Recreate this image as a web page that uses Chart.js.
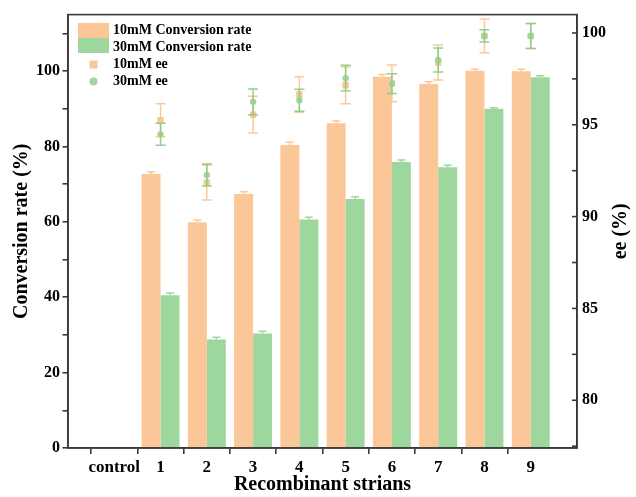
<!DOCTYPE html>
<html>
<head>
<meta charset="utf-8">
<script src="https://cdn.jsdelivr.net/npm/chart.js@4"></script>
<style>
  html, body { margin: 0; padding: 0; background: #ffffff; }
  #wrap { width: 636px; height: 497px; position: relative; }
</style>
</head>
<body>
<div id="wrap"><canvas id="c" width="636" height="497"></canvas></div>
<script>
// ---- data ----
const categories = ['control', '1', '2', '3', '4', '5', '6', '7', '8', '9'];
const conv10 = [null, 72.7, 59.9, 67.4, 80.4, 86.2, 98.5, 96.6, 100.1, 100.0];
const conv10Err = [null, 0.6, 0.6, 0.6, 0.7, 0.6, 0.6, 0.6, 0.4, 0.5];
const conv30 = [null, 40.5, 28.8, 30.4, 60.6, 66.1, 75.9, 74.5, 90.0, 98.4];
const conv30Err = [null, 0.6, 0.6, 0.6, 0.6, 0.6, 0.5, 0.5, 0.3, 0.4];
const ee10 = [null, 95.25, 91.86, 95.55, 96.65, 97.15, 97.25, 98.39, 99.84, 99.84];
const ee10Err = [null, 0.9, 0.95, 1.0, 0.97, 1.0, 1.0, 0.95, 0.92, 0.68];
const ee30 = [null, 94.48, 92.27, 96.25, 96.34, 97.54, 97.24, 98.53, 99.84, 99.84];
const ee30Err = [null, 0.6, 0.6, 0.7, 0.6, 0.7, 0.54, 0.65, 0.33, 0.68];
const leftTicks = [0, 20, 40, 60, 80, 100];
const rightTicks = [80, 85, 90, 95, 100];
const seriesNames = ['10mM Conversion rate', '30mM Conversion rate', '10mM ee', '30mM ee'];

// ---- styles ----
const ORANGE = 'rgb(251,199,152)';
const GREEN = 'rgb(157,215,157)';
const ORANGE_ERR = 'rgba(249,190,140,0.85)';
const GREEN_ERR = 'rgba(130,205,130,0.9)';
const AXIS = '#3a3a3a';
const SERIF = '"Liberation Serif", "Times New Roman", serif';

// pad the category axis with empty slots at both ends (space at left/right)
const pad = a => [null, ...a, null];
const labels = ['', ...categories, ''];

const errorBarPlugin = {
  id: 'errorBars',
  afterDatasetsDraw(chart) {
    const ctx = chart.ctx;
    chart.data.datasets.forEach((ds, di) => {
      if (!ds.errors) return;
      const meta = chart.getDatasetMeta(di);
      if (meta.hidden) return;
      const ys = chart.scales[meta.yAxisID];
      ctx.save();
      ctx.strokeStyle = ds.errorColor;
      ctx.lineWidth = 1.5;
      meta.data.forEach((el, i) => {
        const v = ds.data[i], e = ds.errors[i];
        if (v == null || e == null) return;
        const x = el.x;
        const yT = ys.getPixelForValue(v + e);
        const yB = ys.getPixelForValue(v - e);
        const hw = ds.capHalf;
        ctx.beginPath();
        ctx.moveTo(x, yT); ctx.lineTo(x, ds.type === 'bar' ? ys.getPixelForValue(v) : yB);
        ctx.moveTo(x - hw, yT); ctx.lineTo(x + hw, yT);
        if (ds.type !== 'bar') { ctx.moveTo(x - hw, yB); ctx.lineTo(x + hw, yB); }
        ctx.stroke();
      });
      ctx.restore();
    });
  }
};

const decorPlugin = {
  id: 'decor',
  afterDraw(chart) {
    const ctx = chart.ctx;
    const a = chart.chartArea;
    ctx.save();
    // frame
    ctx.strokeStyle = AXIS;
    ctx.lineWidth = 1.6;
    ctx.strokeRect(a.left, a.top, a.right - a.left, a.bottom - a.top);
    // right axis inward ticks
    const y2 = chart.scales.y2;
    y2.ticks.forEach(t => {
      const y = y2.getPixelForValue(t.value);
      ctx.beginPath();
      ctx.moveTo(a.right - 5, y); ctx.lineTo(a.right, y);
      ctx.stroke();
    });
    // right axis title (reads bottom-to-top)
    ctx.fillStyle = '#000';
    ctx.font = 'bold 20px ' + SERIF;
    ctx.textAlign = 'center';
    ctx.textBaseline = 'middle';
    ctx.translate(621, (a.top + a.bottom) / 2);
    ctx.rotate(-Math.PI / 2);
    ctx.fillText('ee (%)', 0, 0);
    ctx.restore();

    // legend inside plot
    ctx.save();
    const lx = 78, bw = 31, bh = 15;
    ctx.fillStyle = ORANGE; ctx.fillRect(lx, 23, bw, bh);
    ctx.fillStyle = GREEN; ctx.fillRect(lx, 38, bw, bh);
    ctx.fillStyle = ORANGE; ctx.fillRect(lx + bw / 2 - 4, 64.5 - 4, 8, 8);
    ctx.fillStyle = GREEN; ctx.beginPath(); ctx.arc(lx + bw / 2, 81.5, 4, 0, Math.PI * 2); ctx.fill();
    ctx.fillStyle = '#000';
    ctx.font = 'bold 14px ' + SERIF;
    ctx.textAlign = 'left';
    ctx.textBaseline = 'middle';
    const rows = [30.5, 47.5, 64.5, 81.5];
    seriesNames.forEach((n, i) => ctx.fillText(n, 113, rows[i]));
    ctx.restore();
  }
};

new Chart(document.getElementById('c'), {
  data: {
    labels: labels,
    datasets: [
      {
        type: 'line', label: seriesNames[2], data: pad(ee10), yAxisID: 'y2', order: 1,
        showLine: false, pointStyle: 'rect', pointRadius: 4.6, pointBackgroundColor: ORANGE,
        pointBorderWidth: 0, errors: pad(ee10Err), errorColor: ORANGE_ERR, capHalf: 5
      },
      {
        type: 'line', label: seriesNames[3], data: pad(ee30), yAxisID: 'y2', order: 0,
        showLine: false, pointStyle: 'circle', pointRadius: 3.2, pointBackgroundColor: GREEN,
        pointBorderWidth: 0, errors: pad(ee30Err), errorColor: GREEN_ERR, capHalf: 5
      },
      {
        type: 'bar', label: seriesNames[0], data: pad(conv10), yAxisID: 'y', order: 3,
        backgroundColor: ORANGE, borderWidth: 0, categoryPercentage: 0.82, barPercentage: 1.0,
        errors: pad(conv10Err), errorColor: ORANGE, capHalf: 4
      },
      {
        type: 'bar', label: seriesNames[1], data: pad(conv30), yAxisID: 'y', order: 3,
        backgroundColor: GREEN, borderWidth: 0, categoryPercentage: 0.82, barPercentage: 1.0,
        errors: pad(conv30Err), errorColor: GREEN, capHalf: 4
      }
    ]
  },
  options: {
    responsive: false,
    animation: false,
    devicePixelRatio: 1,
    layout: { padding: { top: 12, left: 0, right: 0, bottom: 0 } },
    plugins: { legend: { display: false }, tooltip: { enabled: false } },
    scales: {
      x: {
        type: 'category',
        offset: false,
        grid: {
          drawOnChartArea: false, drawTicks: true, tickLength: 6, lineWidth: 1.6,
          tickColor: c => (c.index === 0 || c.index === labels.length - 1) ? 'rgba(0,0,0,0)' : AXIS
        },
        border: { display: true, color: AXIS, width: 1.6 },
        ticks: {
          autoSkip: false, maxRotation: 0, padding: 3, color: '#000',
          font: { family: SERIF, size: 17, weight: 'bold' }
        },
        title: {
          display: true, text: 'Recombinant strians', color: '#000',
          font: { family: SERIF, size: 20, weight: 'bold', lineHeight: 1.2 },
          padding: { top: 0, bottom: 0 }
        },
        afterFit: s => { s.height = 49; }
      },
      y: {
        type: 'linear', position: 'left', min: 0, max: 115,
        afterBuildTicks: s => {
          const t = [];
          for (let v = 0; v <= 110; v += 10) t.push({ value: v });
          s.ticks = t;
        },
        grid: { drawOnChartArea: false, drawTicks: true, tickLength: 5.5, color: AXIS, lineWidth: 1.6 },
        border: { display: true, color: AXIS, width: 1.6 },
        ticks: {
          padding: 2.5, color: '#000',
          font: { family: SERIF, size: 16, weight: 'bold' },
          callback: v => leftTicks.includes(v) ? String(v) : ''
        },
        title: {
          display: true, text: 'Conversion rate (%)', color: '#000',
          font: { family: SERIF, size: 20, weight: 'bold', lineHeight: 1.2 },
          padding: { top: 10, bottom: 0 }
        },
        afterFit: s => { s.width = 68; }
      },
      y2: {
        type: 'linear', position: 'right', min: 77.4, max: 101,
        afterBuildTicks: s => {
          const t = [];
          for (let v = 77.5; v <= 100; v += 2.5) t.push({ value: v });
          s.ticks = t;
        },
        grid: { drawOnChartArea: false, drawTicks: false, color: AXIS, lineWidth: 1.6 },
        border: { display: true, color: AXIS, width: 1.6 },
        ticks: {
          padding: 5, color: '#000',
          font: { family: SERIF, size: 16, weight: 'bold' },
          callback: v => rightTicks.includes(v) ? String(v) : ''
        },
        title: { display: false },
        afterFit: s => { s.width = 59; }
      }
    }
  },
  plugins: [errorBarPlugin, decorPlugin]
});
</script>
</body>
</html>
